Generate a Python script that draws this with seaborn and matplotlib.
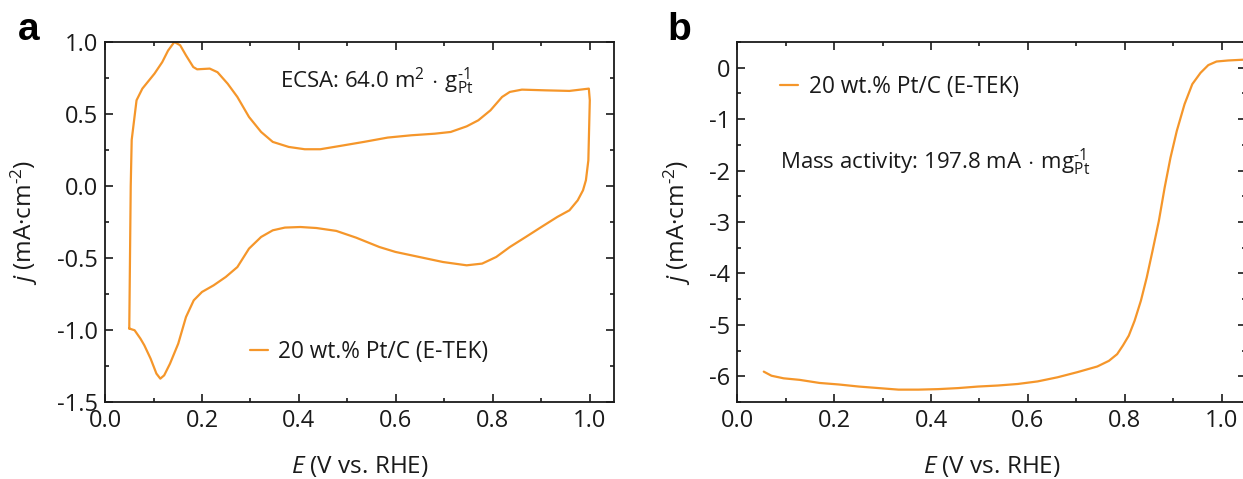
import numpy as np
import pandas as pd
import matplotlib
matplotlib.use("Agg")
import matplotlib.pyplot as plt
import seaborn as sns
from matplotlib.ticker import MultipleLocator, FormatStrFormatter

# === DATI ===
# pannello a: voltammetria ciclica (scansione anodica poi catodica)
cv_E = [0.050, 0.053, 0.055, 0.065, 0.077, 0.102, 0.118, 0.130, 0.143, 0.155,
        0.167, 0.182, 0.190, 0.216, 0.232, 0.253, 0.273, 0.297, 0.322, 0.346,
        0.379, 0.412, 0.444, 0.485, 0.534, 0.583, 0.632, 0.680, 0.713, 0.746,
        0.770, 0.795, 0.819, 0.835, 0.860, 0.909, 0.958, 0.998, 1.000, 0.997,
        0.992, 0.986, 0.975, 0.958, 0.933, 0.900, 0.868, 0.835, 0.807, 0.778,
        0.746, 0.697, 0.648, 0.599, 0.566, 0.518, 0.477, 0.436, 0.403, 0.371,
        0.346, 0.322, 0.297, 0.273, 0.249, 0.224, 0.200, 0.183, 0.167, 0.151,
        0.134, 0.122, 0.114, 0.106, 0.094, 0.081, 0.073, 0.061, 0.051, 0.050]
cv_j = [-0.99, 0.00, 0.32, 0.595, 0.676, 0.78, 0.86, 0.94, 1.00, 0.977,
        0.907, 0.826, 0.81, 0.815, 0.79, 0.71, 0.618, 0.479, 0.375, 0.306,
        0.271, 0.255, 0.255, 0.278, 0.306, 0.336, 0.352, 0.363, 0.375, 0.414,
        0.456, 0.525, 0.618, 0.653, 0.669, 0.664, 0.66, 0.676, 0.595, 0.178,
        0.04, -0.03, -0.10, -0.169, -0.215, -0.285, -0.354, -0.424, -0.493, -0.539,
        -0.551, -0.528, -0.493, -0.458, -0.424, -0.359, -0.312, -0.292, -0.285, -0.289,
        -0.308, -0.354, -0.435, -0.563, -0.632, -0.69, -0.736, -0.794, -0.91, -1.095,
        -1.234, -1.315, -1.338, -1.303, -1.199, -1.106, -1.06, -1.002, -0.991, -0.99]

# pannello b: curva di polarizzazione ORR
lsv_E = [0.055, 0.071, 0.096, 0.129, 0.170, 0.210, 0.251, 0.292, 0.333, 0.374,
         0.415, 0.456, 0.497, 0.538, 0.579, 0.620, 0.661, 0.702, 0.743, 0.767,
         0.784, 0.796, 0.808, 0.820, 0.833, 0.845, 0.857, 0.870, 0.882, 0.894,
         0.907, 0.923, 0.939, 0.956, 0.972, 0.989, 1.013, 1.044]
lsv_j = [-5.91, -5.99, -6.04, -6.07, -6.13, -6.16, -6.20, -6.23, -6.26, -6.26,
         -6.25, -6.23, -6.20, -6.18, -6.15, -6.10, -6.02, -5.92, -5.81, -5.70,
         -5.57, -5.40, -5.21, -4.92, -4.53, -4.08, -3.56, -2.98, -2.33, -1.75,
         -1.23, -0.71, -0.32, -0.10, 0.05, 0.12, 0.14, 0.155]

LABEL = "20 wt.% Pt/C (E-TEK)"
COLOR = "#F5962A"
TXT = "#1a1a1a"

# === STILE ===
sns.set_style("ticks")
plt.rcParams['font.family'] = ['Open Sans', 'DejaVu Sans']
plt.rcParams['mathtext.fontset'] = 'custom'
plt.rcParams['mathtext.rm'] = 'Open Sans'
plt.rcParams['mathtext.it'] = 'Open Sans:italic'
plt.rcParams['axes.unicode_minus'] = False
plt.rcParams['axes.linewidth'] = 1.3
plt.rcParams['axes.edgecolor'] = TXT

fig = plt.figure(figsize=(12.43, 4.79), dpi=100)
ax1 = fig.add_axes([0.0845, 0.1608, 0.4095, 0.7516])
ax2 = fig.add_axes([0.593, 0.1608, 0.4095, 0.7516])

df_cv = pd.DataFrame({"E": cv_E, "j": cv_j})
df_lsv = pd.DataFrame({"E": lsv_E, "j": lsv_j})

sns.lineplot(data=df_cv, x="E", y="j", sort=False, estimator=None,
             color=COLOR, linewidth=1.6, label=LABEL, ax=ax1)
sns.lineplot(data=df_lsv, x="E", y="j", sort=False, estimator=None,
             color=COLOR, linewidth=1.6, label=LABEL, ax=ax2)

# assi
ax1.set_xlim(0, 1.05)
ax1.set_ylim(-1.5, 1.0)
ax1.yaxis.set_major_locator(MultipleLocator(0.5))
ax1.yaxis.set_minor_locator(MultipleLocator(0.25))
ax1.yaxis.set_major_formatter(FormatStrFormatter('%.1f'))

ax2.set_xlim(0, 1.05)
ax2.set_ylim(-6.5, 0.5)
ax2.yaxis.set_major_locator(MultipleLocator(1))
ax2.yaxis.set_minor_locator(MultipleLocator(0.5))
ax2.yaxis.set_major_formatter(FormatStrFormatter('%d'))

for ax in (ax1, ax2):
    ax.xaxis.set_major_locator(MultipleLocator(0.2))
    ax.xaxis.set_minor_locator(MultipleLocator(0.1))
    ax.xaxis.set_major_formatter(FormatStrFormatter('%.1f'))
    ax.tick_params(which='both', direction='in', top=True, right=True,
                   width=1.2, colors=TXT, labelcolor=TXT)
    ax.tick_params(which='major', length=5.5, labelsize=17, pad=5)
    ax.tick_params(which='minor', length=3)
    ax.set_xlabel("$E$ (V vs. RHE)", fontsize=17.5, labelpad=15, color=TXT)
    ax.set_ylabel("$j$ (mA·cm$^{\\text{-2}}$)", fontsize=17.5, color=TXT)
    for s in ax.spines.values():
        s.set_visible(True)

ax1.yaxis.set_label_coords(-0.128, 0.5)
ax2.yaxis.set_label_coords(-0.0865, 0.5)

# legende
ax1.legend(loc='center left', bbox_to_anchor=(0.245, 0.139), frameon=False,
           fontsize=16.3, handlelength=0.8, handletextpad=0.45, labelcolor=TXT)
ax2.legend(loc='center left', bbox_to_anchor=(0.045, 0.875), frameon=False,
           fontsize=16.3, handlelength=0.8, handletextpad=0.45, labelcolor=TXT)

# annotazioni
ax1.text(0.344, 0.89, "ECSA: 64.0 m$^{2}\\,\\cdot\\,$g$_{\\mathrm{Pt}}^{\\text{-1}}$",
         transform=ax1.transAxes, fontsize=16, va='center', ha='left', color=TXT)
ax2.text(0.084, 0.665, "Mass activity: 197.8 mA$\\,\\cdot\\,$mg$_{\\mathrm{Pt}}^{\\text{-1}}$",
         transform=ax2.transAxes, fontsize=16, va='center', ha='left', color=TXT)

# lettere dei pannelli
fig.text(0.014, (479 - 40) / 479, "a", fontsize=28, fontweight='bold',
         family='Liberation Sans', va='baseline', color='black')
fig.text(0.537, (479 - 40) / 479, "b", fontsize=28, fontweight='bold',
         family='Liberation Sans', va='baseline', color='black')

plt.savefig('out.png', dpi=100)
